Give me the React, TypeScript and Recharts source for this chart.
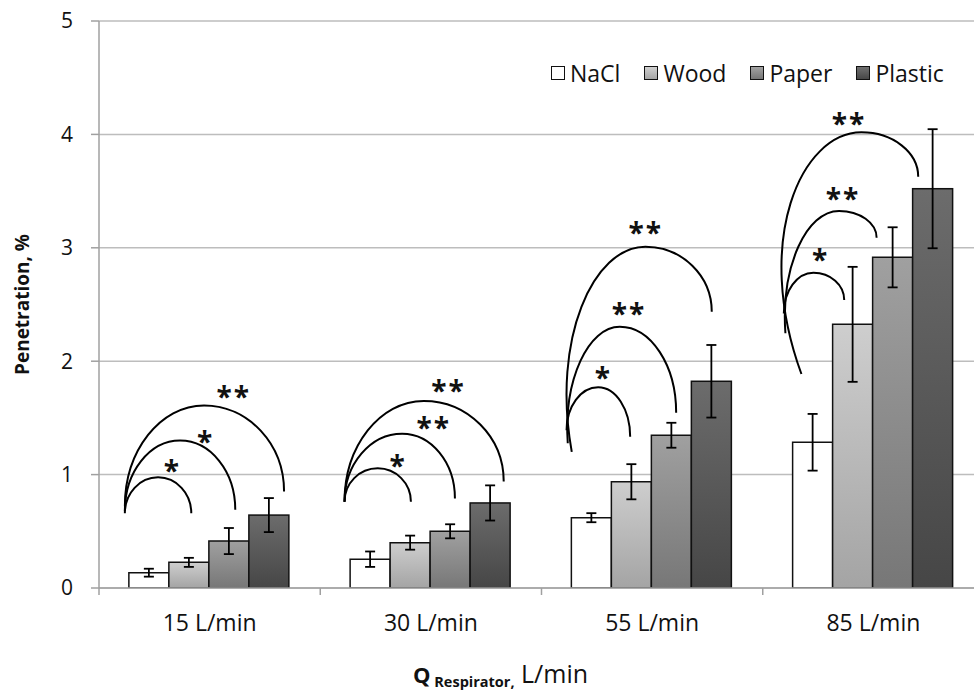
import React from 'react';
import { BarChart, Bar, XAxis, YAxis, CartesianGrid, ErrorBar, Legend } from 'recharts';

const categories = ['15 L/min', '30 L/min', '55 L/min', '85 L/min'];
const nacl = [0.135, 0.254, 0.62, 1.285];
const naclErr = [0.035, 0.068, 0.04, 0.25];
const wood = [0.226, 0.4, 0.937, 2.325];
const woodErr = [0.04, 0.062, 0.155, 0.507];
const paper = [0.414, 0.5, 1.347, 2.916];
const paperErr = [0.115, 0.062, 0.11, 0.265];
const plastic = [0.643, 0.75, 1.823, 3.521];
const plasticErr = [0.15, 0.155, 0.32, 0.525];
const yTicks = [0, 1, 2, 3, 4, 5];

// significance arcs (x in bar-slot units from group's left edge, y in % units)
const sigMarks = [['*', '*', '**'], ['*', '**', '**'], ['*', '**', '**'], ['*', '**', '**']];
const arcStartSlot = [[-0.1, -0.1, -0.1], [-0.14, -0.14, -0.14], [-0.12, -0.09, 0.01], [-0.22, -0.18, 0.22]];
const arcStartVal = [[0.66, 0.68, 0.72], [0.76, 0.76, 0.76], [1.39, 1.276, 1.2], [2.42, 2.246, 1.887]];
const arcCtrlSlot = [[-0.1, -0.1, -0.1], [-0.14, -0.14, -0.14], [-0.12, -0.2, -0.5], [-0.22, -0.3, -1.0]];
const arcPeakSlot = [[0.73, 1.28, 1.88], [0.69, 1.3, 1.84], [0.67, 1.21, 1.85], [0.52, 1.16, 1.72]];
const arcPeakVal = [[0.976, 1.3, 1.61], [1.055, 1.36, 1.65], [1.77, 2.304, 3.01], [2.78, 3.325, 4.018]];
const arcEndSlot = [[1.56, 2.66, 3.88], [1.52, 2.62, 3.84], [1.47, 2.62, 3.51], [1.29, 2.1, 3.14]];
const arcEndVal = [[0.66, 0.69, 0.85], [0.76, 0.79, 0.94], [1.334, 1.546, 2.436], [2.54, 3.089, 3.627]];
const starSlot = [[1.09, 1.92, 2.62], [1.2, 2.09, 2.46], [0.8, 1.44, 1.86], [0.7, 1.26, 1.41]];
const starVal = [[1.07, 1.32, 1.72], [1.11, 1.45, 1.77], [1.887, 2.45, 3.17], [2.928, 3.47, 4.127]];

const data = categories.map((cat, i) => ({
  cat,
  nacl: nacl[i], naclErr: naclErr[i],
  wood: wood[i], woodErr: woodErr[i],
  paper: paper[i], paperErr: paperErr[i],
  plastic: plastic[i], plasticErr: plasticErr[i],
}));

const FONT = '"Open Sans", "DejaVu Sans", sans-serif';
const K = 0.5523;

const PlasticShape = (props: any) => {
  const { x, y, width, height, index, fill } = props;
  const value = plastic[index];
  const baseY = y + height;
  const ppu = height / value;
  const vy = (v: number) => baseY - v * ppu;
  const left = x - 3 * width;
  const sx = (s: number) => left + s * width;
  const arcs = [0, 1, 2].map((j) => {
    const S = { x: sx(arcStartSlot[index][j]), y: vy(arcStartVal[index][j]) };
    const Cx = sx(arcCtrlSlot[index][j]);
    const P = { x: sx(arcPeakSlot[index][j]), y: vy(arcPeakVal[index][j]) };
    const E = { x: sx(arcEndSlot[index][j]), y: vy(arcEndVal[index][j]) };
    const d =
      `M${S.x},${S.y} C${Cx},${S.y - K * (S.y - P.y)} ${P.x - K * (P.x - Cx)},${P.y} ${P.x},${P.y} ` +
      `C${P.x + K * (E.x - P.x)},${P.y} ${E.x},${E.y - K * (E.y - P.y)} ${E.x},${E.y}`;
    const tx = sx(starSlot[index][j]);
    const ty = vy(starVal[index][j]);
    return (
      <g key={j}>
        <path d={d} fill="none" stroke="#000" strokeWidth={2} />
        <text x={tx} y={ty + 14} textAnchor="middle" fontFamily={FONT} fontWeight="bold" fontSize={28} letterSpacing={2} fill="#111">
          {sigMarks[index][j]}
        </text>
      </g>
    );
  });
  return (
    <g>
      <rect x={x} y={y} width={width} height={height} fill={fill} stroke="#111" strokeWidth={1.5} />
      {arcs}
    </g>
  );
};

const XTick = (props: any) => {
  const { x, y, payload } = props;
  const axisY = y - 7;
  const off = payload && typeof payload.offset === 'number' ? payload.offset : 0;
  return (
    <g>
      {off > 0 && <line x1={x - off} y1={axisY} x2={x - off} y2={axisY + 7} stroke="#a0a0a0" strokeWidth={1.5} />}
      <text x={x} y={axisY + 43} textAnchor="middle" fontFamily={FONT} fontSize={23} fill="#111">
        {payload.value}
      </text>
    </g>
  );
};

const legendItems = [
  { name: 'NaCl', bg: '#ffffff' },
  { name: 'Wood', bg: 'linear-gradient(#d0d0d0, #a6a6a6)' },
  { name: 'Paper', bg: 'linear-gradient(#a2a2a2, #767676)' },
  { name: 'Plastic', bg: 'linear-gradient(#707070, #474747)' },
];

const renderLegend = () => (
  <div style={{ display: 'flex', alignItems: 'center', fontFamily: FONT, fontSize: 23, color: '#111', lineHeight: '26px' }}>
    {legendItems.map((it, i) => (
      <div key={it.name} style={{ display: 'flex', alignItems: 'center', marginRight: i < 3 ? 24 : 0 }}>
        <span style={{ display: 'inline-block', width: 12, height: 12, border: '1.5px solid #111', background: it.bg, marginRight: 5 }} />
        <span>{it.name}</span>
      </div>
    ))}
  </div>
);

const XLabel = () => (
  <text x={413} y={683} fontFamily={FONT} fill="#111">
    <tspan fontWeight="bold" fontSize={22}>Q</tspan>
    <tspan fontWeight="bold" fontSize={14.5} dy={4}> Respirator,</tspan>
    <tspan fontSize={25} dy={-4}> L/min</tspan>
  </text>
);

export default function App() {
  return (
    <div style={{ position: 'absolute', left: 0, top: 0, width: 974, height: 694, overflow: 'hidden', background: '#fff' }}>
      <BarChart
        width={1000}
        height={694}
        data={data}
        margin={{ top: 21, right: 16, left: 39, bottom: 46 }}
        barCategoryGap="13.5%"
        barGap={0}
      >
        <defs>
          <linearGradient id="gWood" x1="0" y1="0" x2="0" y2="1">
            <stop offset="0%" stopColor="#cecece" />
            <stop offset="100%" stopColor="#a4a4a4" />
          </linearGradient>
          <linearGradient id="gPaper" x1="0" y1="0" x2="0" y2="1">
            <stop offset="0%" stopColor="#a0a0a0" />
            <stop offset="100%" stopColor="#777777" />
          </linearGradient>
          <linearGradient id="gPlastic" x1="0" y1="0" x2="0" y2="1">
            <stop offset="0%" stopColor="#6c6c6c" />
            <stop offset="100%" stopColor="#464646" />
          </linearGradient>
        </defs>
        <CartesianGrid vertical={false} stroke="#bdbdbd" strokeWidth={1.5} />
        <XAxis
          dataKey="cat"
          height={60}
          axisLine={{ stroke: '#a0a0a0', strokeWidth: 1.5 }}
          tickLine={false}
          tickSize={7}
          tickMargin={0}
          tick={<XTick />}
          interval={0}
          label={<XLabel />}
        />
        <YAxis
          width={60}
          domain={[0, 5]}
          ticks={yTicks}
          allowDataOverflow
          axisLine={{ stroke: '#a0a0a0', strokeWidth: 1.5 }}
          tickLine={{ stroke: '#a0a0a0', strokeWidth: 1.5 }}
          tickSize={8}
          tickMargin={18}
          tick={{ fontFamily: FONT, fontSize: 21, fill: '#111' }}
          label={{ value: 'Penetration, %', angle: -90, position: 'insideLeft', dx: -22, dy: 0, style: { fontFamily: FONT, fontWeight: 'bold', fontSize: 19, fill: '#111', textAnchor: 'middle' } }}
        />
        <Legend
          layout="horizontal"
          verticalAlign="middle"
          align="center"
          content={renderLegend}
          wrapperStyle={{ top: 60, left: 551, width: 420, height: 28 }}
        />
        <Bar dataKey="nacl" name="NaCl" fill="#ffffff" stroke="#111" strokeWidth={1.5} isAnimationActive={false}>
          <ErrorBar dataKey="naclErr" width={5} stroke="#000" strokeWidth={1.8} direction="y" />
        </Bar>
        <Bar dataKey="wood" name="Wood" fill="url(#gWood)" stroke="#111" strokeWidth={1.5} isAnimationActive={false}>
          <ErrorBar dataKey="woodErr" width={5} stroke="#000" strokeWidth={1.8} direction="y" />
        </Bar>
        <Bar dataKey="paper" name="Paper" fill="url(#gPaper)" stroke="#111" strokeWidth={1.5} isAnimationActive={false}>
          <ErrorBar dataKey="paperErr" width={5} stroke="#000" strokeWidth={1.8} direction="y" />
        </Bar>
        <Bar dataKey="plastic" name="Plastic" fill="url(#gPlastic)" shape={<PlasticShape />} isAnimationActive={false}>
          <ErrorBar dataKey="plasticErr" width={5} stroke="#000" strokeWidth={1.8} direction="y" />
        </Bar>
      </BarChart>
    </div>
  );
}
